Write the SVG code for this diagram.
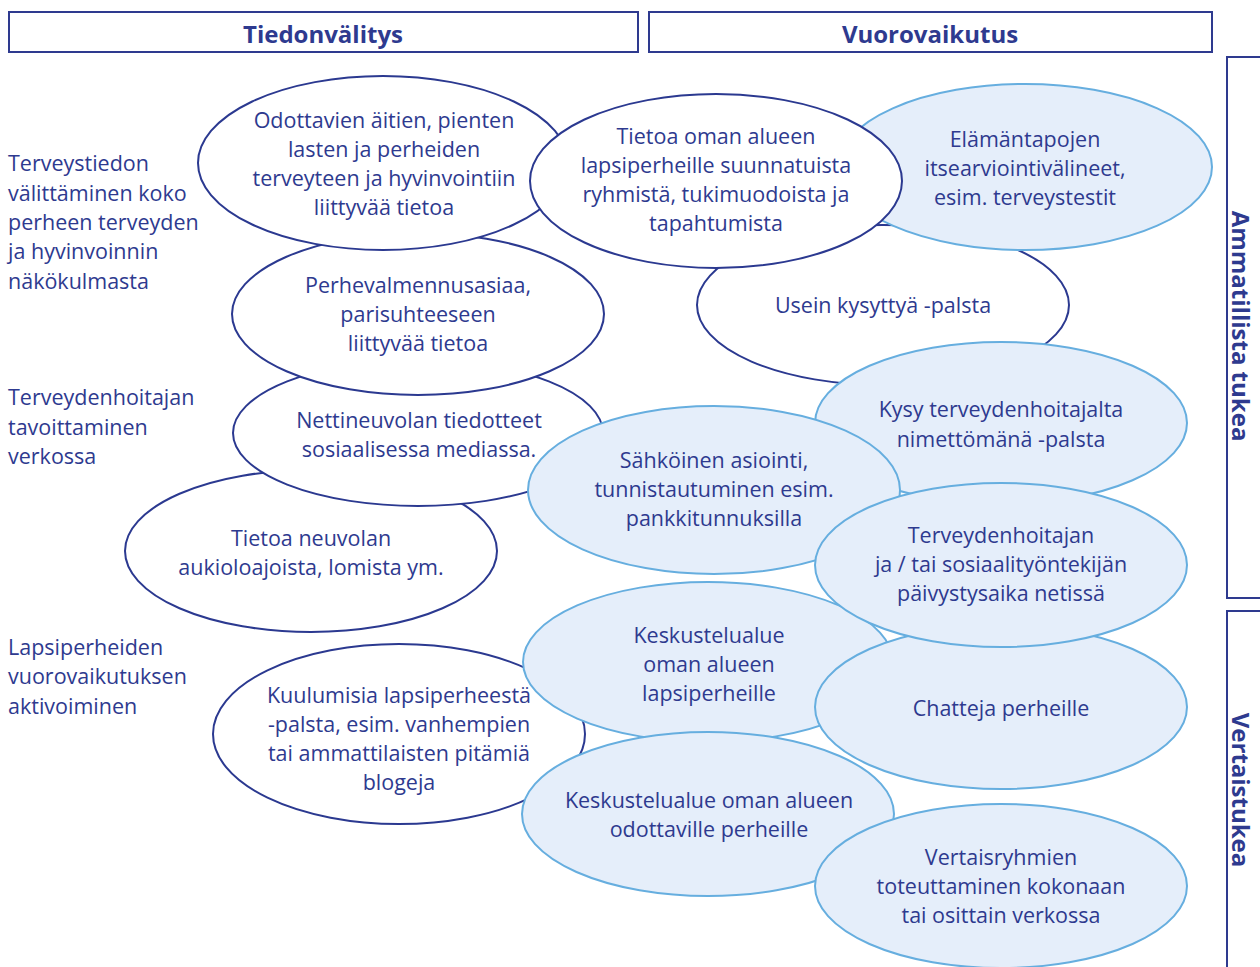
<svg xmlns="http://www.w3.org/2000/svg" width="1260" height="967" viewBox="0 0 1260 967">
<style>
text{font-family:"Open Sans","Noto Sans","Liberation Sans",sans-serif;fill:#2E3A8F;font-size:21.5px}
.c{text-anchor:middle}
.h{font-weight:bold;font-size:24px;text-anchor:middle}
.box{fill:#fff;stroke:#2E3A8F;stroke-width:2}
.w{fill:#fff;stroke:#2B3990;stroke-width:2}
.b{fill:#E5EEFA;stroke:#66AEDF;stroke-width:2}
</style>
<rect width="1260" height="967" fill="#fff"/>
<g id="header-tiedonvalitys"><rect class="box" x="9" y="12" width="629" height="40"/><text class="h" x="323" y="43">Tiedonvälitys</text></g>
<g id="header-vuorovaikutus"><rect class="box" x="649" y="12" width="563" height="40"/><text class="h" x="930" y="43">Vuorovaikutus</text></g>
<g id="side-ammatillista"><rect class="box" x="1227" y="57" width="60" height="541"/><text class="h" transform="translate(1232,326) rotate(90)">Ammatillista tukea</text></g>
<g id="side-vertaistukea"><rect class="box" x="1227" y="611" width="60" height="400"/><text class="h" transform="translate(1232,790) rotate(90)">Vertaistukea</text></g>
<g id="label-terveystiedon"><text x="8" y="171">Terveystiedon</text><text x="8" y="201">välittäminen koko</text><text x="8" y="230">perheen terveyden</text><text x="8" y="259">ja hyvinvoinnin</text><text x="8" y="289">näkökulmasta</text></g>
<g id="label-terveydenhoitajan"><text x="8" y="405">Terveydenhoitajan</text><text x="8" y="435">tavoittaminen</text><text x="8" y="464">verkossa</text></g>
<g id="label-lapsiperheiden"><text x="8" y="655">Lapsiperheiden</text><text x="8" y="684">vuorovaikutuksen</text><text x="8" y="714">aktivoiminen</text></g>
<g id="connectors"></g>
<g id="n-tietoa-neuvolan"><ellipse class="w" cx="311" cy="551" rx="186" ry="81"/><text class="c" x="311" y="546">Tietoa neuvolan</text><text class="c" x="311" y="575">aukioloajoista, lomista ym.</text></g>
<g id="n-nettineuvolan"><ellipse class="w" cx="418" cy="433" rx="185" ry="73"/><text class="c" x="419" y="428">Nettineuvolan tiedotteet</text><text class="c" x="419" y="457">sosiaalisessa mediassa.</text></g>
<g id="n-perhevalmennus"><ellipse class="w" cx="418" cy="314" rx="186" ry="81"/><text class="c" x="418" y="293">Perhevalmennusasiaa,</text><text class="c" x="418" y="322">parisuhteeseen</text><text class="c" x="418" y="351">liittyvää tietoa</text></g>
<g id="n-odottavien"><ellipse class="w" cx="383" cy="163" rx="185" ry="87"/><text class="c" x="384" y="128">Odottavien äitien, pienten</text><text class="c" x="384" y="157">lasten ja perheiden</text><text class="c" x="384" y="186">terveyteen ja hyvinvointiin</text><text class="c" x="384" y="215">liittyvää tietoa</text></g>
<g id="n-usein"><ellipse class="w" cx="883" cy="305" rx="186" ry="80"/><text class="c" x="883" y="313">Usein kysyttyä -palsta</text></g>
<g id="n-elamantapojen"><ellipse class="b" cx="1025" cy="167" rx="187" ry="83"/><text class="c" x="1025" y="147">Elämäntapojen</text><text class="c" x="1025" y="176">itsearviointivälineet,</text><text class="c" x="1025" y="205">esim. terveystestit</text></g>
<g id="n-tietoa-oman"><ellipse class="w" cx="716" cy="181" rx="186" ry="87"/><text class="c" x="716" y="144">Tietoa oman alueen</text><text class="c" x="716" y="173">lapsiperheille suunnatuista</text><text class="c" x="716" y="202">ryhmistä, tukimuodoista ja</text><text class="c" x="716" y="231">tapahtumista</text></g>
<g id="n-kysy"><ellipse class="b" cx="1001" cy="423" rx="186" ry="81"/><text class="c" x="1001" y="417">Kysy terveydenhoitajalta</text><text class="c" x="1001" y="447">nimettömänä -palsta</text></g>
<g id="n-sahkoinen"><ellipse class="b" cx="714" cy="490" rx="186" ry="84"/><text class="c" x="714" y="468">Sähköinen asiointi,</text><text class="c" x="714" y="497">tunnistautuminen esim.</text><text class="c" x="714" y="526">pankkitunnuksilla</text></g>
<g id="n-kuulumisia"><ellipse class="w" cx="399" cy="734" rx="186" ry="90"/><text class="c" x="399" y="703">Kuulumisia lapsiperheestä</text><text class="c" x="399" y="732">-palsta, esim. vanhempien</text><text class="c" x="399" y="761">tai ammattilaisten pitämiä</text><text class="c" x="399" y="790">blogeja</text></g>
<g id="n-keskustelu-lapsiperheille"><ellipse class="b" cx="708" cy="662" rx="185" ry="80"/><text class="c" x="709" y="643">Keskustelualue</text><text class="c" x="709" y="672">oman alueen</text><text class="c" x="709" y="701">lapsiperheille</text></g>
<g id="n-chatteja"><ellipse class="b" cx="1001" cy="707" rx="186" ry="82"/><text class="c" x="1001" y="716">Chatteja perheille</text></g>
<g id="n-terveydenhoitajan"><ellipse class="b" cx="1001" cy="565" rx="186" ry="82"/><text class="c" x="1001" y="543">Terveydenhoitajan</text><text class="c" x="1001" y="572">ja / tai sosiaalityöntekijän</text><text class="c" x="1001" y="601">päivystysaika netissä</text></g>
<g id="n-keskustelu-odottaville"><ellipse class="b" cx="708" cy="814" rx="186" ry="82"/><text class="c" x="709" y="808">Keskustelualue oman alueen</text><text class="c" x="709" y="837">odottaville perheille</text></g>
<g id="n-vertaisryhmien"><ellipse class="b" cx="1001" cy="886" rx="186" ry="82"/><text class="c" x="1001" y="865">Vertaisryhmien</text><text class="c" x="1001" y="894">toteuttaminen kokonaan</text><text class="c" x="1001" y="923">tai osittain verkossa</text></g>
</svg>
